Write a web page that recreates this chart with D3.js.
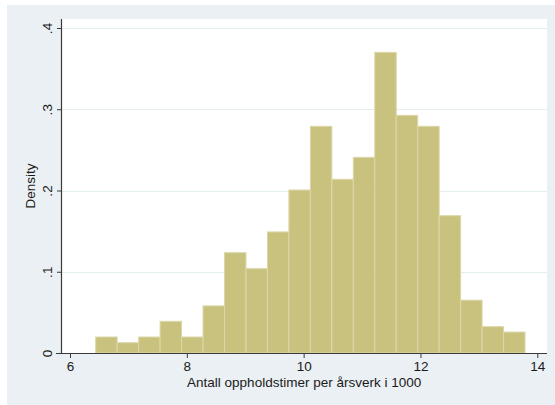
<!DOCTYPE html>
<html>
<head>
<meta charset="utf-8">
<script src="https://cdn.jsdelivr.net/npm/d3@7"></script>
<style>
  html, body { margin: 0; padding: 0; background: #ffffff; }
  svg { display: block; }
  text { font-family: "Liberation Sans", Arial, Helvetica, sans-serif; fill: #1a1a1a; }
</style>
</head>
<body>
<svg id="chart" width="555" height="405"></svg>
<script>
// Histogram bins: lower edge of each bin and its density
const binLower = [6.44, 6.8075, 7.175, 7.5425, 7.91, 8.2775, 8.645, 9.0125, 9.38, 9.7475,
                  10.115, 10.4825, 10.85, 11.2175, 11.585, 11.9525, 12.32, 12.6875, 13.055, 13.4225];
const binWidth = 0.3675;
const density = [0.0197, 0.0127, 0.0197, 0.039, 0.0197, 0.058, 0.1235, 0.1038, 0.149, 0.2006,
                 0.279, 0.2138, 0.2408, 0.370, 0.2925, 0.279, 0.169, 0.065, 0.0324, 0.0258];
const xTicks = [6, 8, 10, 12, 14];
const yTicks = [0, 0.1, 0.2, 0.3, 0.4];
const yTickLabels = ["0", ".1", ".2", ".3", ".4"];
const xTitle = "Antall oppholdstimer per årsverk i 1000";
const yTitle = "Density";

const svg = d3.select("#chart");

// outer graph region
svg.append("rect")
  .attr("x", 7).attr("y", 5).attr("width", 548).attr("height", 400)
  .attr("fill", "#eaf0f3");

// plot region
const plot = { left: 62, right: 547, top: 19, bottom: 353 };
svg.append("rect")
  .attr("x", plot.left).attr("y", plot.top)
  .attr("width", plot.right - plot.left).attr("height", plot.bottom - plot.top)
  .attr("fill", "#ffffff");

const x = d3.scaleLinear().domain([6, 14]).range([70, 537.3]);
const y = d3.scaleLinear().domain([0, 0.4]).range([353, 28]);

// horizontal grid lines
svg.append("g")
  .selectAll("line")
  .data(yTicks.filter(d => d > 0))
  .join("line")
  .attr("x1", plot.left).attr("x2", plot.right)
  .attr("y1", d => Math.round(y(d)) + 0.5).attr("y2", d => Math.round(y(d)) + 0.5)
  .attr("stroke", "#e4eef0").attr("stroke-width", 1);

// bars
svg.append("g")
  .selectAll("rect")
  .data(density.map((v, i) => ({ x0: binLower[i], x1: binLower[i] + binWidth, v })))
  .join("rect")
  .attr("x", d => x(d.x0))
  .attr("width", d => x(d.x1) - x(d.x0))
  .attr("y", d => y(d.v))
  .attr("height", d => y(0) - y(d.v))
  .attr("fill", "#c9c27f")
  .attr("stroke", "#dcd7a9")
  .attr("stroke-width", 1);

// x axis
const xAxis = d3.axisBottom(x).tickValues(xTicks).tickSize(5).tickPadding(3)
  .tickFormat(d3.format("d"));
const gx = svg.append("g").attr("transform", `translate(0,${plot.bottom})`).call(xAxis);
gx.select(".domain").remove();
gx.append("line")
  .attr("x1", 56).attr("x2", plot.right).attr("y1", 0.5).attr("y2", 0.5)
  .attr("stroke", "#3a3a3a").attr("stroke-width", 1.2);
gx.selectAll(".tick line").attr("stroke", "#3a3a3a");
gx.selectAll(".tick text")
  .attr("font-size", 13.5).attr("fill", "#1a1a1a")
  .attr("font-family", "Liberation Sans, Arial, sans-serif");

// y axis
const yAxis = d3.axisLeft(y).tickValues(yTicks).tickSize(5).tickPadding(3)
  .tickFormat((d, i) => yTickLabels[i]);
const gy = svg.append("g").attr("transform", `translate(${plot.left},0)`).call(yAxis);
gy.select(".domain").remove();
gy.append("line")
  .attr("x1", -0.5).attr("x2", -0.5).attr("y1", plot.top).attr("y2", plot.bottom + 1)
  .attr("stroke", "#3a3a3a").attr("stroke-width", 1.2);
gy.selectAll(".tick line").attr("stroke", "#3a3a3a");
gy.selectAll(".tick text")
  .attr("font-size", 13.5).attr("fill", "#1a1a1a")
  .attr("font-family", "Liberation Sans, Arial, sans-serif")
  .attr("text-anchor", "middle")
  .attr("dy", 0)
  .attr("x", 0)
  .attr("transform", "translate(-10,0) rotate(-90)");

// axis titles
svg.append("text")
  .attr("x", (x(6) + x(14)) / 2 + 0.5).attr("y", 387)
  .attr("text-anchor", "middle").attr("font-size", 13.5)
  .text(xTitle);

svg.append("text")
  .attr("transform", `translate(35,${(plot.top + plot.bottom) / 2}) rotate(-90)`)
  .attr("text-anchor", "middle").attr("font-size", 13.5)
  .text(yTitle);
</script>
</body>
</html>
